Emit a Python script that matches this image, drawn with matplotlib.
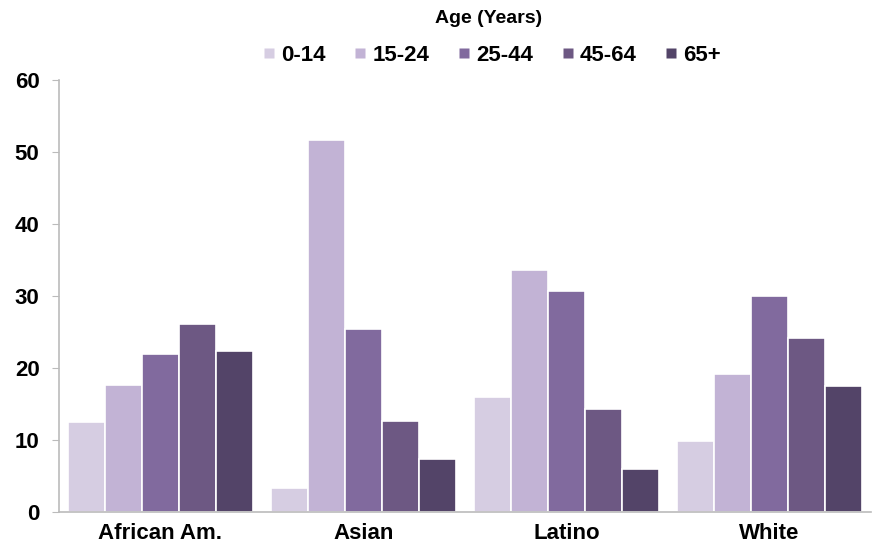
import numpy as np
import matplotlib.pyplot as plt
from matplotlib.lines import Line2D

groups = ['African Am.', 'Asian', 'Latino', 'White']
ages = ['0-14', '15-24', '25-44', '45-64', '65+']
age_0_14 = [12.5, 3.4, 16.0, 9.9]
age_15_24 = [17.6, 51.7, 33.6, 19.2]
age_25_44 = [22.0, 25.4, 30.7, 30.0]
age_45_64 = [26.1, 12.6, 14.3, 24.2]
age_65 = [22.3, 7.3, 6.0, 17.5]

series = [age_0_14, age_15_24, age_25_44, age_45_64, age_65]
colors = ['#d6cde2', '#c2b3d5', '#816a9e', '#6d5883', '#534468']

fig = plt.figure(figsize=(8.79, 5.45), dpi=100)
ax = fig.add_axes([59/879, 33/545, 812/879, 432/545])

x = np.arange(len(groups))
w = 0.182
for i, (vals, c) in enumerate(zip(series, colors)):
    ax.bar(x + (i - 2) * w, vals, w, color=c, edgecolor='white', linewidth=1.2)

ax.set_xlim(-0.5, 3.5)
ax.set_ylim(0, 60)
ax.set_yticks(range(0, 61, 10))
ax.set_xticks(x)
ax.set_xticklabels(groups, fontsize=16, fontweight='bold', family='Liberation Sans')
for lab in ax.get_yticklabels():
    lab.set_fontsize(16)
    lab.set_fontweight('bold')
    lab.set_family('Liberation Sans')
ax.tick_params(axis='x', length=0, pad=8)
ax.tick_params(axis='y', length=5, color='#bbbbbb', pad=9)
for s in ['top', 'right']:
    ax.spines[s].set_visible(False)
for s in ['left', 'bottom']:
    ax.spines[s].set_color('#bbbbbb')
    ax.spines[s].set_linewidth(1.2)

handles = [Line2D([], [], marker='s', linestyle='none', markersize=7,
                  markerfacecolor=c, markeredgecolor='none') for c in colors]
leg = fig.legend(handles, ages, loc='center', bbox_to_anchor=(489/879, 1 - 38/545),
                 ncol=5, frameon=False, handletextpad=0.0, columnspacing=1.0,
                 handlelength=1.1, labelspacing=0.2,
                 title='Age (Years)',
                 prop={'size': 16, 'weight': 'bold', 'family': 'Liberation Sans'})
leg.get_title().set_fontweight('bold')
leg.get_title().set_fontsize(14)
leg.get_title().set_family('Liberation Sans')
leg._legend_box.sep = 13

fig.savefig('out.png', dpi=100)
